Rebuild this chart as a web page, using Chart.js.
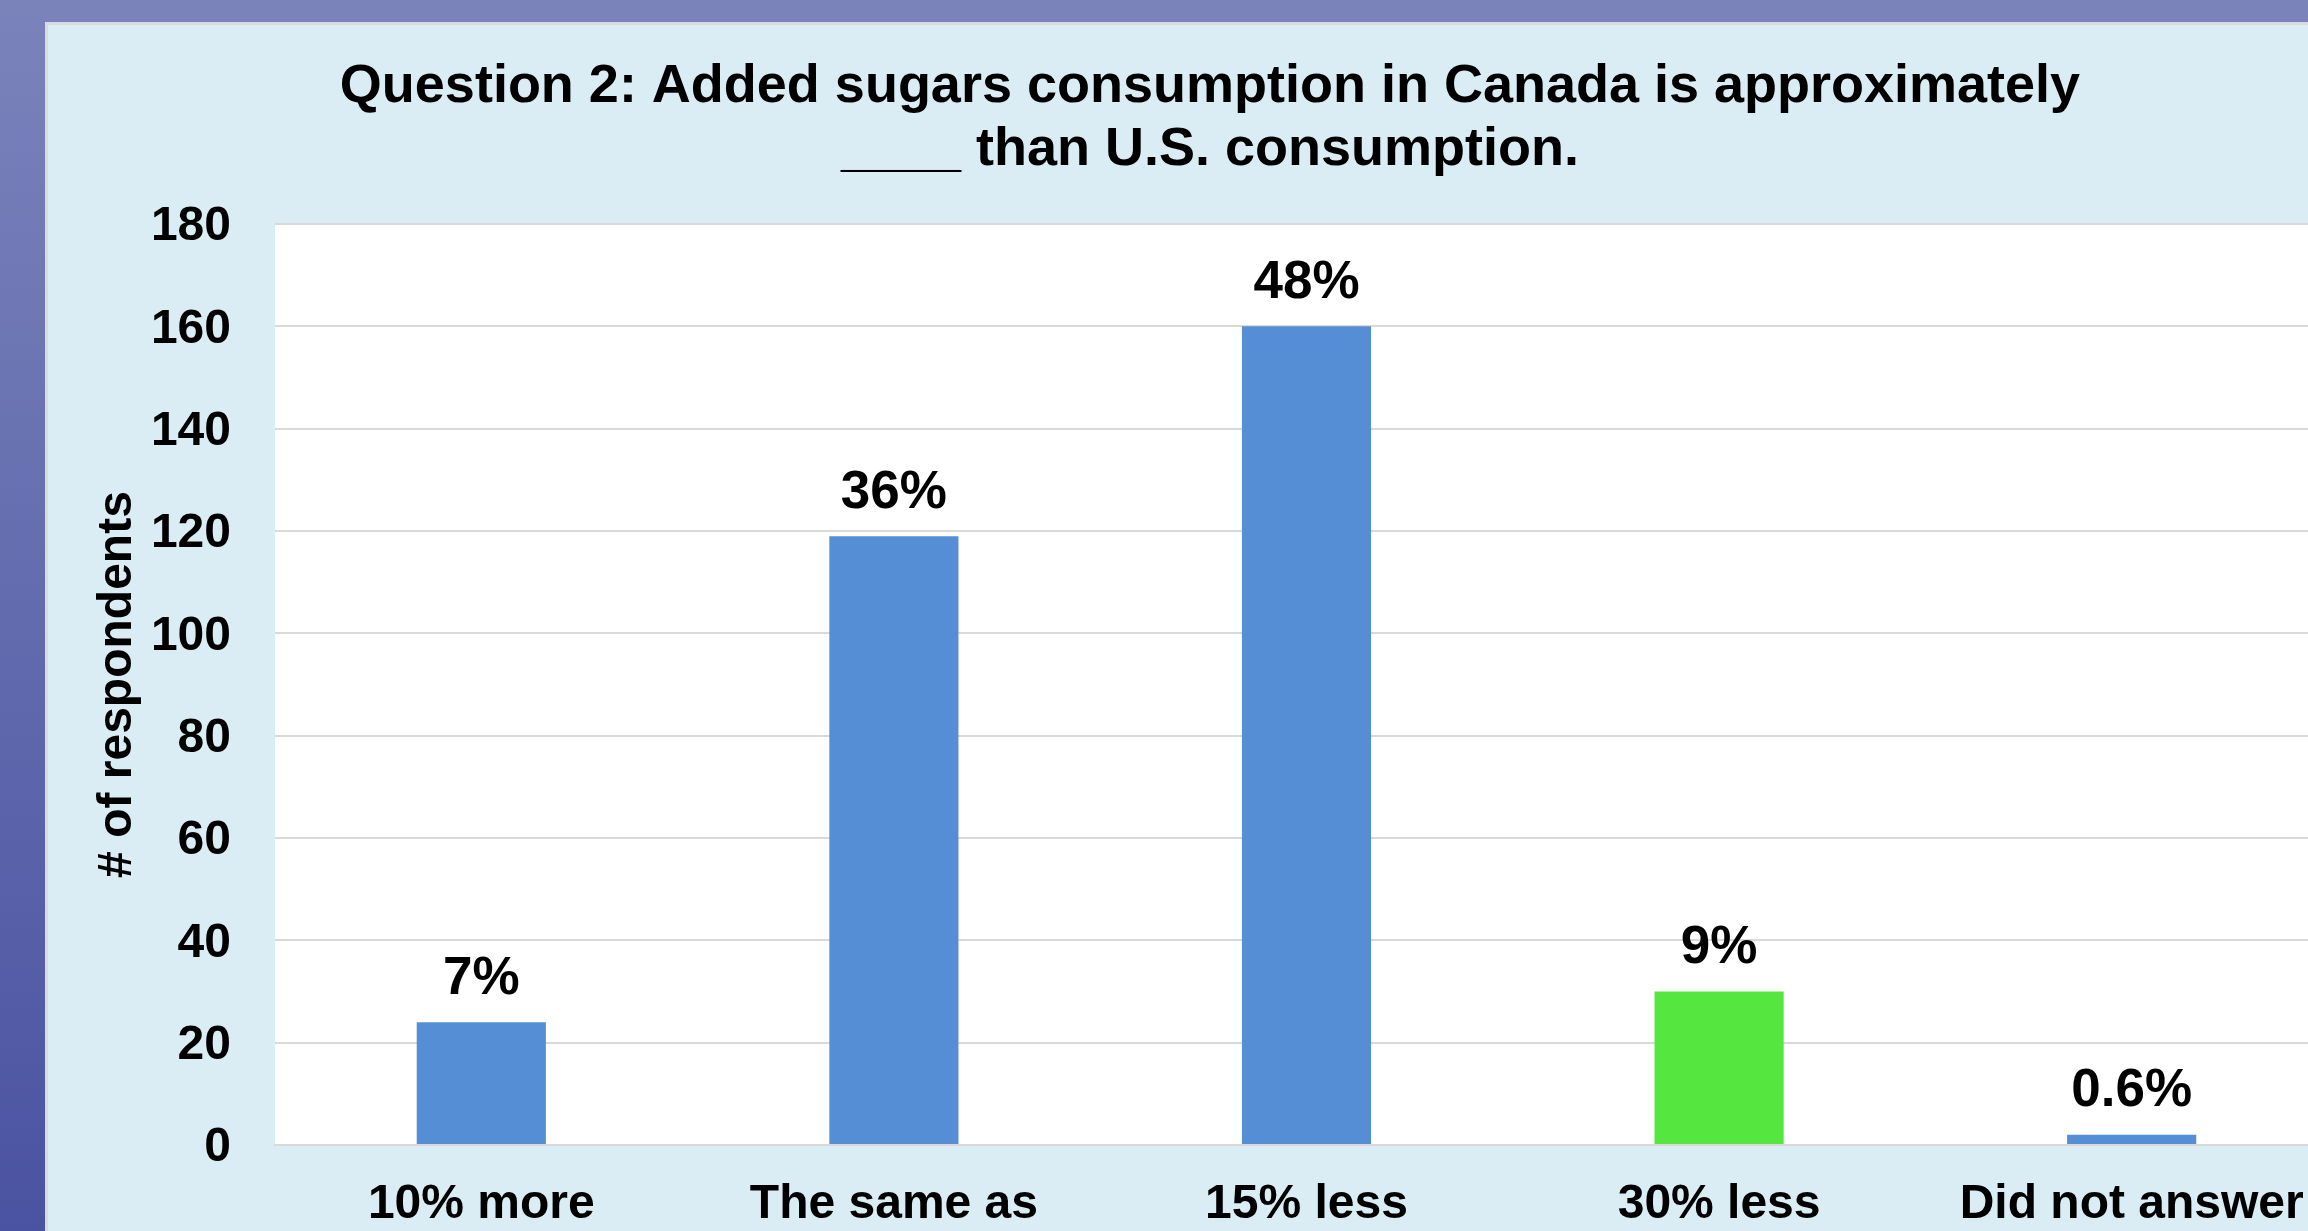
<!DOCTYPE html>
<html>
<head>
<meta charset="utf-8">
<script src="https://cdn.jsdelivr.net/npm/chart.js@4.4.0/dist/chart.umd.min.js"></script>
<style>
  html, body {
    margin: 0;
    width: 2308px;
    height: 1231px;
    overflow: hidden;
    background: linear-gradient(180deg, #7b83bb 0%, #4a53a1 100%);
  }
  #panel {
    position: absolute;
    left: 45px;
    top: 22px;
    width: 2400px;
    height: 1300px;
    background: #dbedf4;
    border-left: 3px solid #d9dcdd;
    border-top: 3px solid #d9dcdd;
  }
  #plot {
    position: absolute;
    left: 48px;
    top: 25px;
  }
</style>
</head>
<body>
<div id="panel"></div>
<canvas id="plot" width="2300" height="1206"></canvas>
<script>
// Datos
let categorias = ['10% more', 'The same as', '15% less', '30% less', 'Did not answer'];
let respuestas = [24, 119, 160, 30, 2];
let porcentajes = ['7%', '36%', '48%', '9%', '0.6%'];
let colores = ['#558ed5', '#558ed5', '#558ed5', '#56e640', '#558ed5'];

let titulo = ['Question 2: Added sugars consumption in Canada is approximately', '____ than U.S. consumption.'];
let tituloEje = '# of respondents';

let fuente = "'Liberation Sans', Arial, sans-serif";

//Fondo blanco del area de trazado
let fondoPlot = {
  id: 'fondoPlot',
  beforeDraw: (chart) => {
    let { ctx, chartArea } = chart;
    ctx.save();
    ctx.fillStyle = '#ffffff';
    ctx.fillRect(chartArea.left, chartArea.top, chartArea.right - chartArea.left, chartArea.bottom - chartArea.top);
    ctx.restore();
  }
};

//Etiquetas de porcentaje sobre cada barra
let etiquetas = {
  id: 'etiquetas',
  afterDatasetsDraw: (chart) => {
    let { ctx } = chart;
    let meta = chart.getDatasetMeta(0);
    ctx.save();
    ctx.font = 'bold 53px ' + fuente;
    ctx.fillStyle = '#000000';
    ctx.textAlign = 'center';
    ctx.textBaseline = 'middle';
    meta.data.forEach((barra, i) => {
      ctx.fillText(porcentajes[i], barra.x, barra.y - 43);
    });
    ctx.restore();
  }
};

let plotRef = document.getElementById('plot');

let config = {
  type: 'bar',
  data: {
    labels: categorias,
    datasets: [
      {
        data: respuestas,
        backgroundColor: colores,
        borderWidth: 0,
        categoryPercentage: 1,
        barPercentage: 0.313
      }
    ]
  },
  options: {
    responsive: false,
    animation: false,
    layout: {
      padding: { left: 34, right: 10, top: 0, bottom: 0 }
    },
    plugins: {
      legend: { display: false },
      tooltip: { enabled: false },
      title: {
        display: true,
        text: titulo,
        color: '#000000',
        font: { family: fuente, size: 54, weight: 'bold', lineHeight: 1.167 },
        padding: { top: 31, bottom: 42 }
      }
    },
    scales: {
      x: {
        grid: { display: false, drawTicks: false },
        border: { display: true, color: '#d9d9d9', width: 2 },
        ticks: {
          color: '#000000',
          padding: 31,
          maxRotation: 0,
          autoSkip: false,
          font: { family: fuente, size: 48, weight: 'bold' }
        },
        afterFit: (scale) => { scale.height = 86; }
      },
      y: {
        min: 0,
        max: 180,
        grid: { color: '#d9d9d9', lineWidth: 2, drawTicks: false },
        border: { display: false },
        ticks: {
          stepSize: 20,
          color: '#000000',
          padding: 44,
          labelOffset: 3,
          font: { family: fuente, size: 48, weight: 'bold' }
        },
        title: {
          display: true,
          text: tituloEje,
          color: '#000000',
          font: { family: fuente, size: 48, weight: 'bold', lineHeight: 1.2 },
          padding: { top: 7, bottom: 0 }
        },
        afterFit: (scale) => { scale.width = 193; }
      }
    }
  },
  plugins: [fondoPlot, etiquetas]
};

let chart1 = new Chart(plotRef, config);
</script>
</body>
</html>
